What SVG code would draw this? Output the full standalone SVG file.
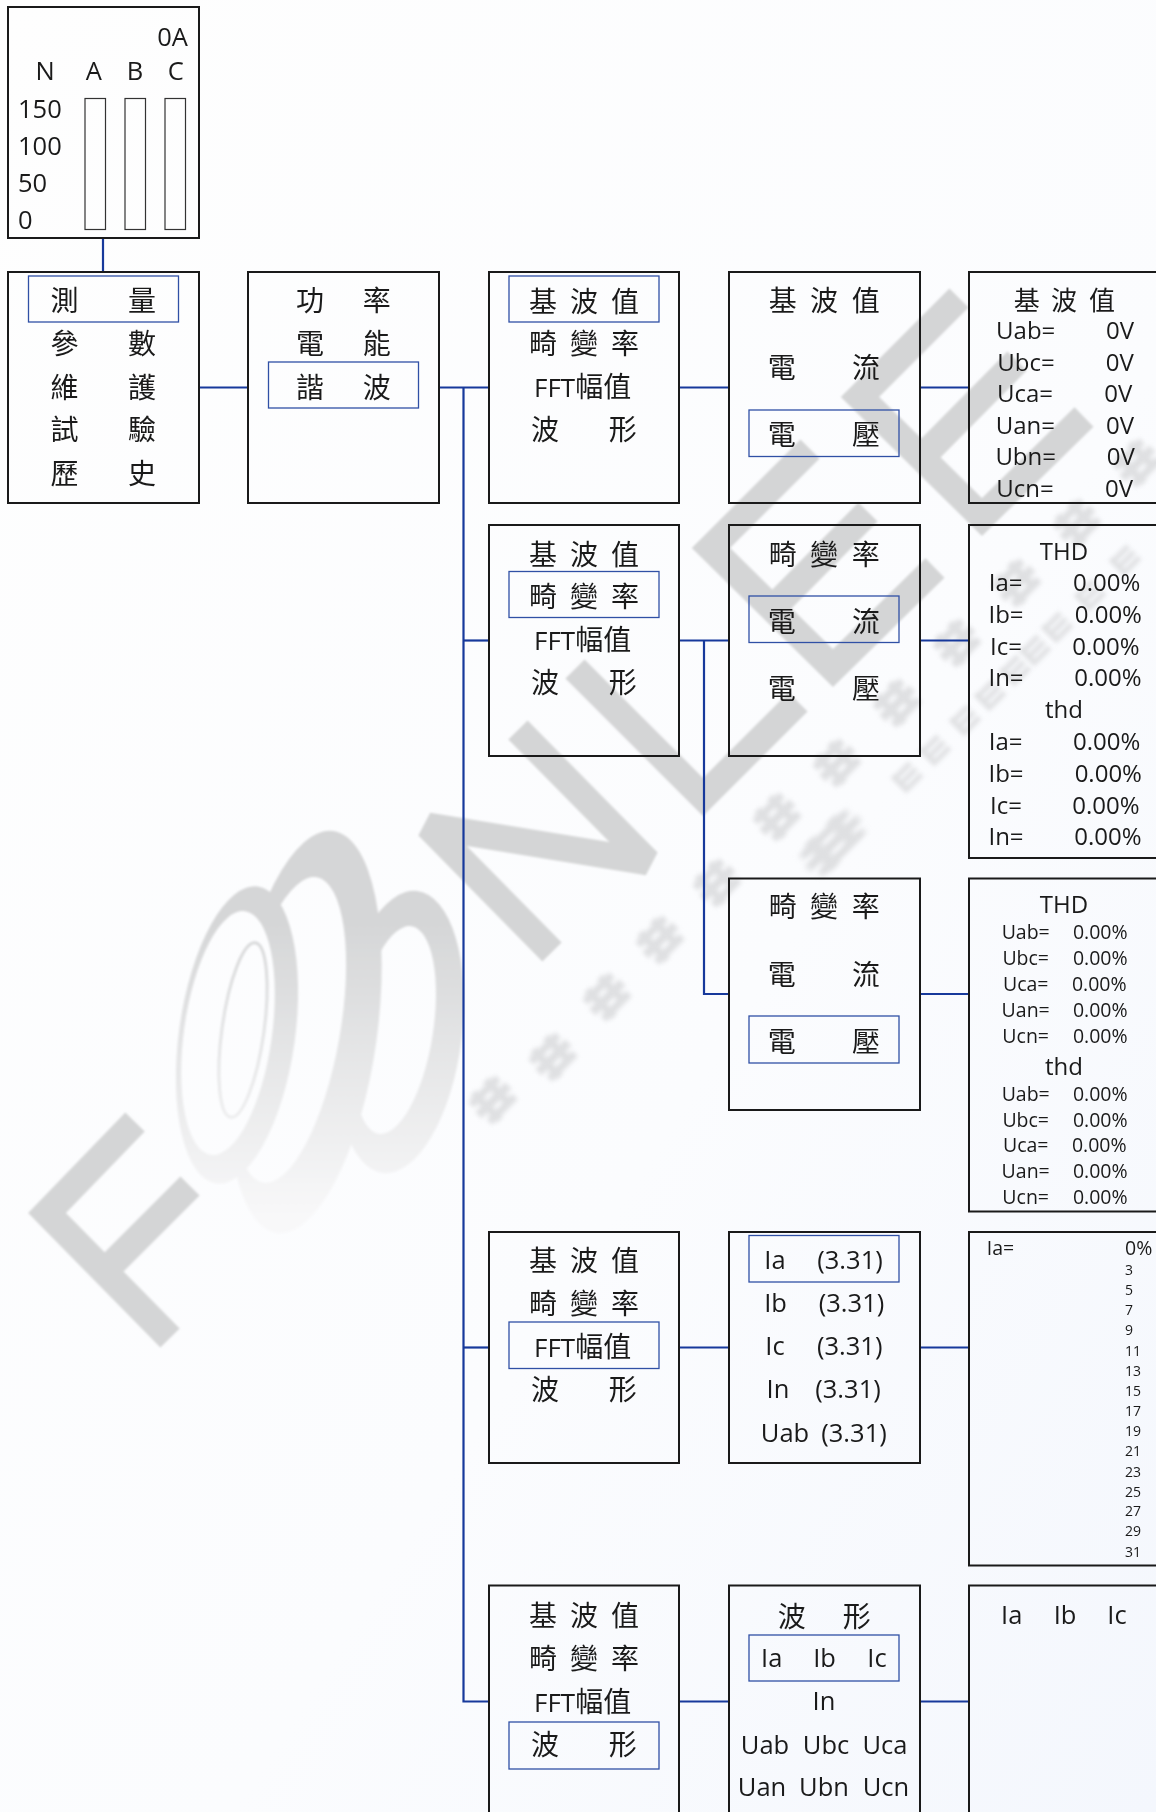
<svg xmlns="http://www.w3.org/2000/svg" xmlns:xlink="http://www.w3.org/1999/xlink" width="1156" height="1812" viewBox="0 0 1156 1812">
<style>
text{font-family:"Open Sans","Noto Sans CJK TC",sans-serif;fill:#1a1a1a;text-anchor:middle}
.z{font-family:"Noto Sans CJK TC","Open Sans",sans-serif;font-size:28px}
.z2{font-family:"Noto Sans CJK TC","Open Sans",sans-serif;font-size:26px}
text.z,text.z2{transform:translateY(1px)}
.l{font-size:25.500px}
.f{font-size:26px}
.m{font-size:24px}
.s{font-size:19.500px}
.t{font-size:14px}
.st{text-anchor:start}
.b{fill:none;stroke:#1a1a1a;stroke-width:2}
.h{fill:none;stroke:#3050a5;stroke-width:1.300}
.bar{fill:none;stroke:#333;stroke-width:1.200}
.c{fill:none;stroke:#17399b;stroke-width:2.200}
.w{fill:none;stroke:#d4d5d6;stroke-width:27;stroke-linejoin:miter;stroke-miterlimit:3}
.wb{fill:#dfe0e2}
</style>
<defs>
<linearGradient id="bg" x1="0" y1="0" x2="1" y2="1"><stop offset="0" stop-color="#fefefe"/><stop offset="0.6" stop-color="#fbfcfe"/><stop offset="1" stop-color="#f4f7fd"/></linearGradient>
<linearGradient id="fade" gradientUnits="userSpaceOnUse" x1="0" y1="920" x2="0" y2="1215"><stop offset="0" stop-color="#d5d6d7"/><stop offset="1" stop-color="#f8f8f9"/></linearGradient>
<filter id="soft" x="-5%" y="-5%" width="110%" height="110%"><feGaussianBlur stdDeviation="1.200"/></filter>
<filter id="soft2" x="-20%" y="-20%" width="140%" height="140%"><feGaussianBlur stdDeviation="2"/></filter>
<mask id="rings" maskUnits="userSpaceOnUse" x="140" y="800" width="360" height="460">
<ellipse cx="400" cy="1032" rx="62" ry="142" fill="#fff" transform="rotate(7 400 1032)"/>
<ellipse cx="395" cy="1030" rx="38" ry="105" fill="#000" transform="rotate(9 395 1030)"/>
<ellipse cx="305" cy="1032" rx="72" ry="203" fill="#fff" transform="rotate(8 305 1032)"/>
<ellipse cx="290" cy="1030" rx="50" ry="155" fill="#000" transform="rotate(10 290 1030)"/>
<ellipse cx="237" cy="1035" rx="58" ry="150" fill="#fff" transform="rotate(8 237 1035)"/>
<ellipse cx="228" cy="1033" rx="44" ry="123" fill="#000" transform="rotate(8 228 1033)"/>
<ellipse cx="243" cy="1030" rx="21" ry="88" fill="none" stroke="#fff" stroke-width="3" transform="rotate(8 243 1030)"/>
</mask>
<g id="blob" class="wb" filter="url(#soft2)"><rect x="-19" y="-16" width="38" height="8"/><rect x="-21" y="-4" width="42" height="9"/><rect x="-18" y="9" width="36" height="8"/><rect x="-13" y="-19" width="8" height="38"/><rect x="5" y="-19" width="8" height="36"/></g>
<g id="blob2" class="wb" filter="url(#soft2)"><rect x="-12" y="-10" width="24" height="5"/><rect x="-12" y="-2" width="24" height="5"/><rect x="-12" y="6" width="24" height="5"/><rect x="-12" y="-11" width="5" height="22"/></g>
</defs>
<rect width="1156" height="1812" fill="url(#bg)"/>
<g id="watermark">
<g filter="url(#soft)">
<path class="w" d="M135 1122L47 1213L170 1338M105 1271L190 1186"/>
<rect x="140" y="800" width="360" height="460" fill="url(#fade)" mask="url(#rings)"/>
<path class="w" d="M552 952L428 826L648 862L518 730"/>
<path class="w" d="M575 669L703 797L798 702"/>
<path class="w" d="M810 449L711 548L833 668L935 568M772 609L868 512"/>
<path class="w" d="M959 298L860 397L982 517L1084 417M921 458L1017 361"/>
</g>
<use xlink:href="#blob" href="#blob" transform="translate(493 1100) rotate(-45)"/>
<use xlink:href="#blob" href="#blob" transform="translate(553 1057) rotate(-45)"/>
<use xlink:href="#blob" href="#blob" transform="translate(607 997) rotate(-45)"/>
<use xlink:href="#blob" href="#blob" transform="translate(660 940) rotate(-45)"/>
<use xlink:href="#blob" href="#blob" transform="translate(717 883) rotate(-45)"/>
<use xlink:href="#blob" href="#blob" transform="translate(777 817) rotate(-45)"/>
<use xlink:href="#blob" href="#blob" transform="translate(837 763) rotate(-45)"/>
<use xlink:href="#blob" href="#blob" transform="translate(897 703) rotate(-45)"/>
<use xlink:href="#blob" href="#blob" transform="translate(957 643) rotate(-45)"/>
<use xlink:href="#blob" href="#blob" transform="translate(1017 583) rotate(-45)"/>
<use xlink:href="#blob" href="#blob" transform="translate(1077 523) rotate(-45)"/>
<use xlink:href="#blob" href="#blob" transform="translate(1137 463) rotate(-45)"/>
<use xlink:href="#blob" href="#blob" transform="translate(833 843) rotate(-45) scale(1.700 1)"/>
<use xlink:href="#blob2" href="#blob2" transform="translate(907 777) rotate(-45)"/>
<use xlink:href="#blob2" href="#blob2" transform="translate(935 750) rotate(-45)"/>
<use xlink:href="#blob2" href="#blob2" transform="translate(965 720) rotate(-45)"/>
<use xlink:href="#blob2" href="#blob2" transform="translate(990 695) rotate(-45)"/>
<use xlink:href="#blob2" href="#blob2" transform="translate(1015 670) rotate(-45)"/>
<use xlink:href="#blob2" href="#blob2" transform="translate(1035 650) rotate(-45)"/>
<use xlink:href="#blob2" href="#blob2" transform="translate(1057 627) rotate(-45)"/>
<use xlink:href="#blob2" href="#blob2" transform="translate(1090 595) rotate(-45)"/>
<use xlink:href="#blob2" href="#blob2" transform="translate(1125 560) rotate(-45)"/>
</g>
<g id="connectors">
<path class="c" d="M103 238V272"/>
<path class="c" d="M199 387.500H248"/>
<path class="c" d="M439 387.500H489"/>
<path class="c" d="M463.500 387.500V1701.500H489"/>
<path class="c" d="M463.500 640.500H489"/>
<path class="c" d="M463.500 1347.500H489"/>
<path class="c" d="M679 387.500H729"/>
<path class="c" d="M920 387.500H969"/>
<path class="c" d="M679 640.500H729"/>
<path class="c" d="M704 640.500V994H729"/>
<path class="c" d="M920 640.500H969"/>
<path class="c" d="M920 994H969"/>
<path class="c" d="M679 1347.500H729"/>
<path class="c" d="M920 1347.500H969"/>
<path class="c" d="M679 1701.500H729"/>
<path class="c" d="M920 1701.500H969"/>
</g>
<g id="meter">
<rect class="b" x="8" y="7" width="191" height="231"/>
<rect class="bar" x="85" y="98.500" width="20.500" height="131"/>
<rect class="bar" x="125" y="98.500" width="20.500" height="131"/>
<rect class="bar" x="165" y="98.500" width="20.500" height="131"/>
<text class="l" x="172.500" y="45.500">0A</text>
<text class="l" x="45 93.700 135 175.700" y="80">NABC</text>
<text class="l st" x="18" y="117.500">150</text>
<text class="l st" x="18" y="154.500">100</text>
<text class="l st" x="18" y="191.500">50</text>
<text class="l st" x="18" y="229">0</text>
</g>
<g id="menu">
<rect class="b" x="8" y="272" width="191" height="231"/>
<rect class="h" x="28.500" y="276" width="150" height="46"/>
<text class="z" x="64.500 142" y="310">測量</text>
<text class="z" x="64.500 142" y="353">參數</text>
<text class="z" x="64.500 142" y="396.500">維護</text>
<text class="z" x="64.500 142" y="439">試驗</text>
<text class="z" x="64.500 142" y="483">歷史</text>
</g>
<g id="menu2">
<rect class="b" x="248" y="272" width="191" height="231"/>
<rect class="h" x="268.500" y="362" width="150" height="46"/>
<text class="z" x="310 376.700" y="310">功率</text>
<text class="z" x="310 376.700" y="353">電能</text>
<text class="z" x="310 376.700" y="396.500">諧波</text>
</g>
<g id="h1">
<rect class="b" x="489" y="272" width="190" height="231"/>
<rect class="h" x="509" y="276" width="150" height="46"/>
<text class="z" x="543 584 625" y="310.500">基波值</text>
<text class="z" x="543 584 625" y="353">畸變率</text>
<text class="f st" x="534" y="396.500">FFT<tspan class="z">幅值</tspan></text>
<text class="z" x="545 622.700" y="439">波形</text>
</g>
<g id="h2">
<rect class="b" x="489" y="525" width="190" height="231"/>
<rect class="h" x="509" y="571.500" width="150" height="46"/>
<text class="z" x="543 584 625" y="563.500">基波值</text>
<text class="z" x="543 584 625" y="606">畸變率</text>
<text class="f st" x="534" y="649.500">FFT<tspan class="z">幅值</tspan></text>
<text class="z" x="545 622.700" y="692">波形</text>
</g>
<g id="h3">
<rect class="b" x="489" y="1232" width="190" height="231"/>
<rect class="h" x="509" y="1322" width="150" height="46.500"/>
<text class="z" x="543 584 625" y="1270">基波值</text>
<text class="z" x="543 584 625" y="1313">畸變率</text>
<text class="f st" x="534" y="1356.500">FFT<tspan class="z">幅值</tspan></text>
<text class="z" x="545 622.700" y="1399">波形</text>
</g>
<g id="h4">
<rect class="b" x="489" y="1585.500" width="190" height="240"/>
<rect class="h" x="509" y="1722" width="150" height="47"/>
<text class="z" x="543 584 625" y="1625">基波值</text>
<text class="z" x="543 584 625" y="1668">畸變率</text>
<text class="f st" x="534" y="1711.500">FFT<tspan class="z">幅值</tspan></text>
<text class="z" x="545 622.700" y="1754">波形</text>
</g>
<g id="fund">
<rect class="b" x="729" y="272" width="191" height="231"/>
<rect class="h" x="749" y="410" width="150" height="46.500"/>
<text class="z" x="782.700 824 865.700" y="309.500">基波值</text>
<text class="z" x="781.700 866" y="377">電流</text>
<text class="z" x="781.700 866" y="444">電壓</text>
</g>
<g id="thd-i">
<rect class="b" x="729" y="525" width="191" height="231"/>
<rect class="h" x="749" y="596" width="150" height="46.500"/>
<text class="z" x="782.700 824 865.700" y="563.500">畸變率</text>
<text class="z" x="781.700 866" y="630.500">電流</text>
<text class="z" x="781.700 866" y="698">電壓</text>
</g>
<g id="thd-u">
<rect class="b" x="729" y="878.500" width="191" height="231.500"/>
<rect class="h" x="749" y="1016" width="150" height="47"/>
<text class="z" x="782.700 824 865.700" y="916">畸變率</text>
<text class="z" x="781.700 866" y="983.500">電流</text>
<text class="z" x="781.700 866" y="1051">電壓</text>
</g>
<g id="fft">
<rect class="b" x="729" y="1232" width="191" height="231"/>
<rect class="h" x="749" y="1235.500" width="150" height="46.500"/>
<text class="l" x="775" y="1268.500">Ia</text><text class="l" x="850" y="1268.500">(3.31)</text>
<text class="l" x="775.500" y="1312">Ib</text><text class="l" x="851.500" y="1312">(3.31)</text>
<text class="l" x="775" y="1354.500">Ic</text><text class="l" x="849.700" y="1354.500">(3.31)</text>
<text class="l" x="778" y="1398">In</text><text class="l" x="848" y="1398">(3.31)</text>
<text class="l" x="785" y="1441.500">Uab</text><text class="l" x="854" y="1441.500">(3.31)</text>
</g>
<g id="wave">
<rect class="b" x="729" y="1585.500" width="191" height="240"/>
<rect class="h" x="749" y="1635" width="150" height="46"/>
<text class="z" x="791.700 856.700" y="1625.500">波形</text>
<text class="l" x="771.700" y="1667">Ia</text><text class="l" x="824.500" y="1667">Ib</text><text class="l" x="877" y="1667">Ic</text>
<text class="l" x="824" y="1710">In</text>
<text class="l" x="765" y="1753.500">Uab</text><text class="l" x="826" y="1753.500">Ubc</text><text class="l" x="885" y="1753.500">Uca</text>
<text class="l" x="762" y="1796">Uan</text><text class="l" x="824" y="1796">Ubn</text><text class="l" x="886" y="1796">Ucn</text>
</g>
<g id="val-fund">
<rect class="b" x="969" y="272" width="200" height="231"/>
<text class="z2" x="1026.700 1064 1102" y="309">基波值</text>
<text class="m" x="1025.700" y="338.500">Uab=</text><text class="m" x="1120" y="338.500">0V</text>
<text class="m" x="1026" y="370.500">Ubc=</text><text class="m" x="1119.700" y="370.500">0V</text>
<text class="m" x="1025" y="401.500">Uca=</text><text class="m" x="1118.300" y="401.500">0V</text>
<text class="m" x="1025.300" y="433.500">Uan=</text><text class="m" x="1120" y="433.500">0V</text>
<text class="m" x="1025.700" y="465">Ubn=</text><text class="m" x="1120.700" y="465">0V</text>
<text class="m" x="1025" y="497">Ucn=</text><text class="m" x="1119" y="497">0V</text>
</g>
<g id="val-thd-i">
<rect class="b" x="969" y="525" width="200" height="333"/>
<text class="m" x="1064" y="560">THD</text>
<text class="m" x="1005.700" y="590.500">Ia=</text><text class="m" x="1106.700" y="590.500">0.00%</text>
<text class="m" x="1006" y="622.500">Ib=</text><text class="m" x="1108.300" y="622.500">0.00%</text>
<text class="m" x="1006" y="654.500">Ic=</text><text class="m" x="1106" y="654.500">0.00%</text>
<text class="m" x="1006" y="685.500">In=</text><text class="m" x="1108" y="685.500">0.00%</text>
<text class="m" x="1064" y="717.500">thd</text>
<text class="m" x="1005.700" y="750">Ia=</text><text class="m" x="1106.700" y="750">0.00%</text>
<text class="m" x="1006" y="781.500">Ib=</text><text class="m" x="1108.300" y="781.500">0.00%</text>
<text class="m" x="1006" y="813.500">Ic=</text><text class="m" x="1106" y="813.500">0.00%</text>
<text class="m" x="1006" y="845">In=</text><text class="m" x="1108" y="845">0.00%</text>
</g>
<g id="val-thd-u">
<rect class="b" x="969" y="878.500" width="200" height="333"/>
<text class="m" x="1064" y="912.500">THD</text>
<text class="s" x="1025.700" y="938.500">Uab=</text><text class="s" x="1100.300" y="938.500">0.00%</text>
<text class="s" x="1025.700" y="965">Ubc=</text><text class="s" x="1100.300" y="965">0.00%</text>
<text class="s" x="1025.700" y="991">Uca=</text><text class="s" x="1099.300" y="991">0.00%</text>
<text class="s" x="1025.700" y="1017">Uan=</text><text class="s" x="1100.300" y="1017">0.00%</text>
<text class="s" x="1025.700" y="1043">Ucn=</text><text class="s" x="1100.300" y="1043">0.00%</text>
<text class="m" x="1064" y="1074.500">thd</text>
<text class="s" x="1025.700" y="1101">Uab=</text><text class="s" x="1100.300" y="1101">0.00%</text>
<text class="s" x="1025.700" y="1127">Ubc=</text><text class="s" x="1100.300" y="1127">0.00%</text>
<text class="s" x="1025.700" y="1152">Uca=</text><text class="s" x="1099.300" y="1152">0.00%</text>
<text class="s" x="1025.700" y="1178">Uan=</text><text class="s" x="1100.300" y="1178">0.00%</text>
<text class="s" x="1025.700" y="1204">Ucn=</text><text class="s" x="1100.300" y="1204">0.00%</text>
</g>
<g id="val-fft">
<rect class="b" x="969" y="1232" width="200" height="333.500"/>
<text class="s st" x="986.700" y="1255">Ia=</text>
<text class="s st" x="1125" y="1255">0%</text>
<text class="t st" x="1125" y="1274.500">3</text>
<text class="t st" x="1125" y="1294.800">5</text>
<text class="t st" x="1125" y="1315">7</text>
<text class="t st" x="1125" y="1335">9</text>
<text class="t st" x="1125" y="1355.600">11</text>
<text class="t st" x="1125" y="1375.600">13</text>
<text class="t st" x="1125" y="1395.600">15</text>
<text class="t st" x="1125" y="1415.600">17</text>
<text class="t st" x="1125" y="1436.400">19</text>
<text class="t st" x="1125" y="1456.400">21</text>
<text class="t st" x="1125" y="1476.800">23</text>
<text class="t st" x="1125" y="1496.800">25</text>
<text class="t st" x="1125" y="1516.400">27</text>
<text class="t st" x="1125" y="1536.400">29</text>
<text class="t st" x="1125" y="1557">31</text>
</g>
<g id="val-wave">
<rect class="b" x="969" y="1585.500" width="200" height="240"/>
<text class="l" x="1011.700" y="1624">Ia</text><text class="l" x="1065" y="1624">Ib</text><text class="l" x="1117" y="1624">Ic</text>
</g>
</svg>
